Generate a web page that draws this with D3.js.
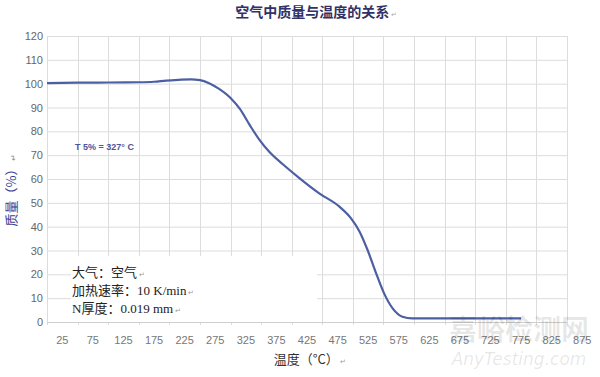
<!DOCTYPE html>
<html>
<head>
<meta charset="utf-8">
<script src="https://cdn.jsdelivr.net/npm/d3@7"></script>
<style>
  body { margin: 0; background: #fff; }
  svg { display: block; }
</style>
</head>
<body>
<div id="chart"></div>
<script>
width = 600
height = 377

margin = ({top: 36, right: 32, bottom: 55, left: 47})

// temperature (°C) and mass (%)
temps = [0, 50, 100, 150, 175, 195, 215, 235, 250, 265, 280, 300, 315, 331, 347, 364, 385, 413, 445, 478, 497, 511, 524, 538, 551, 565, 581, 597, 650, 700, 775]
mass = [100.2, 100.4, 100.5, 100.6, 100.8, 101.3, 101.6, 101.8, 101.5, 100.2, 98, 94, 89.5, 82.8, 76.5, 71.2, 66.3, 60.3, 54, 48.4, 43.5, 37.9, 30.2, 20.4, 12, 5.7, 2.2, 1.5, 1.5, 1.5, 1.5]

xTickLabels = [25, 75, 125, 175, 225, 275, 325, 375, 425, 475, 525, 575, 625, 675, 725, 775, 825, 875]
yTicks = [0, 10, 20, 30, 40, 50, 60, 70, 80, 90, 100, 110, 120]
xGrid = d3.range(0, 851, 50)

infoLines = ["大气：空气", "加热速率：10 K/min", "N厚度：0.019 mm"]

let points = temps.map((t, i) => ({t: t, v: mass[i]}))

let x = d3.scaleLinear()
  .domain([0, 850])
  .range([margin.left, width - margin.right - 1])

let y = d3.scaleLinear()
  .domain([0, 120])
  .range([height - margin.bottom, margin.top])

const svg = d3.select('#chart').append('svg')
  .attr('width', width)
  .attr('height', height)

// grid
svg.append('g')
  .selectAll('line')
  .data(yTicks)
  .join('line')
  .attr('x1', margin.left)
  .attr('x2', x(850))
  .attr('y1', d => y(d) + 0.5)
  .attr('y2', d => y(d) + 0.5)
  .attr('stroke', '#dcdcdc')

svg.append('g')
  .selectAll('line')
  .data(xGrid)
  .join('line')
  .attr('x1', d => Math.round(x(d)) + 0.5)
  .attr('x2', d => Math.round(x(d)) + 0.5)
  .attr('y1', y(120))
  .attr('y2', y(0) + 3)
  .attr('stroke', '#dcdcdc')

// white box behind the notes
svg.append('rect')
  .attr('x', 71)
  .attr('y', 256)
  .attr('width', 246)
  .attr('height', y(0) - 256)
  .attr('fill', '#fff')

// baseline
svg.append('line')
  .attr('x1', margin.left)
  .attr('x2', x(850))
  .attr('y1', y(0) + 0.5)
  .attr('y2', y(0) + 0.5)
  .attr('stroke', '#cfcfcf')

// y labels
svg.append('g')
  .selectAll('text')
  .data(yTicks)
  .join('text')
  .attr('x', margin.left - 4)
  .attr('y', d => y(d) + 4)
  .attr('text-anchor', 'end')
  .attr('font-family', 'Liberation Sans, Arial, sans-serif')
  .attr('font-size', 11)
  .attr('fill', '#666')
  .text(d => d)

// x labels (centred between grid lines)
svg.append('g')
  .selectAll('text')
  .data(xTickLabels)
  .join('text')
  .attr('x', d => x(d))
  .attr('y', y(0) + 22)
  .attr('text-anchor', 'middle')
  .attr('font-family', 'Liberation Sans, Arial, sans-serif')
  .attr('font-size', 11)
  .attr('fill', '#777')
  .text(d => d)

let line = d3.line()
  .x(d => x(d.t))
  .y(d => y(d.v))
  .curve(d3.curveMonotoneX)

svg.append('path')
  .datum(points)
  .attr('fill', 'none')
  .attr('stroke', '#4d5fa3')
  .attr('stroke-width', 2.2)
  .attr('stroke-linejoin', 'round')
  .attr('d', line)

// title
svg.append('text')
  .attr('x', 316)
  .attr('y', 17)
  .attr('text-anchor', 'middle')
  .attr('font-family', 'Noto Sans CJK SC, sans-serif')
  .attr('font-size', 14)
  .attr('font-weight', 'bold')
  .attr('fill', '#2f3266')
  .text('空气中质量与温度的关系')
  .append('tspan')
  .attr('font-size', 7)
  .attr('fill', '#aaa')
  .attr('font-weight', 'normal')
  .text(' ↵')

// y axis title
svg.append('text')
  .attr('transform', 'translate(16,190) rotate(-90)')
  .attr('text-anchor', 'middle')
  .attr('font-family', 'Noto Sans CJK SC, sans-serif')
  .attr('font-size', 13)
  .attr('fill', '#3c428f')
  .text('质量（%）')
  .append('tspan')
  .attr('font-size', 8)
  .attr('fill', '#888')
  .text(' ↵')

// x axis title
svg.append('text')
  .attr('x', 310)
  .attr('y', 364)
  .attr('text-anchor', 'middle')
  .attr('font-family', 'Noto Sans CJK SC, sans-serif')
  .attr('font-size', 13)
  .attr('fill', '#333')
  .text('温度（°C）')
  .append('tspan')
  .attr('font-size', 7)
  .attr('fill', '#999')
  .text(' ↵')

// annotation
svg.append('text')
  .attr('x', 75)
  .attr('y', 150)
  .attr('font-family', 'Liberation Sans, Arial, sans-serif')
  .attr('font-size', 9)
  .attr('font-weight', 'bold')
  .attr('fill', '#4d539c')
  .text('T 5% = 327° C')

// notes
svg.append('g')
  .selectAll('text')
  .data(infoLines)
  .join('text')
  .attr('x', 72)
  .attr('y', (d, i) => 277 + i * 18)
  .attr('font-family', 'Liberation Serif, Noto Sans CJK SC, serif')
  .attr('font-size', 13)
  .attr('fill', '#222')
  .text(d => d)
  .append('tspan')
  .attr('font-size', 7)
  .attr('fill', '#999')
  .text(' ↵')

// watermark
svg.append('text')
  .attr('x', 519)
  .attr('y', 340)
  .attr('text-anchor', 'middle')
  .attr('font-family', 'Noto Sans CJK SC, sans-serif')
  .attr('font-size', 28)
  .attr('font-weight', 'bold')
  .attr('fill', '#000')
  .attr('fill-opacity', 0.1)
  .text('嘉峪检测网')

svg.append('text')
  .attr('x', 519)
  .attr('y', 365)
  .attr('text-anchor', 'middle')
  .attr('font-family', 'DejaVu Sans, sans-serif')
  .attr('font-size', 17)
  .attr('font-style', 'italic')
  .attr('fill', '#000')
  .attr('fill-opacity', 0.1)
  .text('AnyTesting.com')
</script>
</body>
</html>
